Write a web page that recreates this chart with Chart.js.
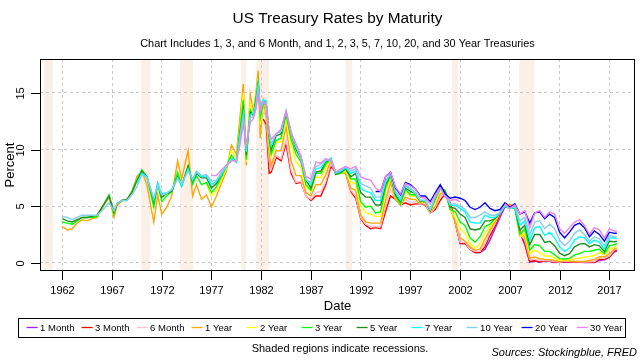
<!DOCTYPE html>
<html>
<head>
<meta charset="utf-8">
<script src="https://cdn.jsdelivr.net/npm/chart.js@4.4.1/dist/chart.umd.min.js"></script>
<style>
  body { margin: 0; background: #fff; }
  canvas { display: block; }
</style>
</head>
<body>
<canvas id="rates" width="640" height="360"></canvas>
<script>
// Dates (decimal years) shared by all series
const dates = [
    1962.0, 1962.5, 1963.0, 1963.5, 1964.0, 1964.5, 1965.0, 1965.5, 1966.0, 1966.7,
    1967.2, 1967.5, 1968.0, 1968.5, 1969.0, 1969.5, 1970.0, 1970.5, 1971.2, 1971.6,
    1972.0, 1972.5, 1973.0, 1973.6, 1974.0, 1974.65, 1975.1, 1975.5, 1976.0, 1976.5,
    1977.0, 1977.5, 1978.0, 1978.5, 1979.0, 1979.5, 1979.8, 1980.2, 1980.5, 1980.9,
    1981.2, 1981.45, 1981.7, 1981.9, 1982.2, 1982.5, 1982.8, 1983.0, 1983.5, 1984.0,
    1984.5, 1985.0, 1985.5, 1986.0, 1986.5, 1987.0, 1987.5, 1988.0, 1988.5, 1989.0,
    1989.5, 1990.0, 1990.5, 1991.0, 1991.5, 1992.0, 1992.5, 1993.0, 1993.5, 1994.0,
    1994.5, 1995.0, 1995.5, 1996.0, 1996.5, 1997.0, 1997.5, 1998.0, 1998.5, 1999.0,
    1999.5, 2000.0, 2000.5, 2001.0, 2001.5, 2002.0, 2002.5, 2003.0, 2003.5, 2004.0,
    2004.5, 2005.0, 2005.5, 2006.0, 2006.5, 2007.0, 2007.5, 2008.0, 2008.5, 2009.0,
    2009.5, 2010.0, 2010.5, 2011.0, 2011.5, 2012.0, 2012.5, 2013.0, 2013.5, 2014.0,
    2014.5, 2015.0, 2015.5, 2016.0, 2016.5, 2017.0, 2017.5, 2017.75
];

// Each series starts at the date given with it
const oneMonth = [
    3.6, 1.7, 1.7, 1.2, 0.9, 0.9,
    1.2, 2.0, 3.0, 4.0, 4.9, 4.9, 4.9, 2.7, 1.6, 0.05,
    0.15, 0.03, 0.15, 0.12, 0.02, 0.03, 0.08, 0.04, 0.03, 0.03,
    0.02, 0.02, 0.02, 0.2, 0.26, 0.5, 0.95, 1.0
];
const threeMonth = [
    12.7, 12.2, 7.9, 8.0, 9.3, 9.0,
    10.5, 7.9, 7.0, 7.1, 5.9, 5.5, 5.9, 5.9, 6.9, 8.5,
    8.0, 7.9, 7.9, 6.3, 5.7, 3.9, 3.3, 3.0, 3.1, 3.0,
    4.5, 5.9, 5.6, 5.1, 5.3, 5.1, 5.2, 5.2, 5.1, 4.4,
    4.7, 5.5, 6.1, 5.3, 3.6, 1.7, 1.7, 1.2, 0.9, 0.9,
    1.4, 2.4, 3.2, 4.3, 5.1, 5.1, 5.0, 2.8, 1.7, 0.1,
    0.2, 0.06, 0.16, 0.15, 0.04, 0.05, 0.1, 0.07, 0.04, 0.05,
    0.03, 0.03, 0.03, 0.3, 0.3, 0.5, 1.05, 1.1
];
const sixMonth = [
    13.3, 13.0, 9.0, 8.3, 9.5, 9.2,
    10.9, 8.2, 7.1, 7.2, 5.9, 5.6, 6.2, 6.3, 7.2, 8.8,
    7.9, 7.9, 7.9, 6.4, 5.9, 4.0, 3.4, 3.2, 3.2, 3.2,
    5.0, 6.5, 5.6, 5.1, 5.6, 5.3, 5.4, 5.2, 5.2, 4.4,
    4.9, 5.8, 6.3, 5.0, 3.6, 1.8, 1.8, 1.2, 1.0, 1.0,
    1.7, 2.7, 3.4, 4.5, 5.2, 5.1, 5.0, 2.6, 2.0, 0.3,
    0.3, 0.2, 0.2, 0.18, 0.1, 0.07, 0.14, 0.11, 0.08, 0.08,
    0.06, 0.08, 0.1, 0.45, 0.4, 0.6, 1.13, 1.2
];
const oneYear = [
    3.2, 2.9, 3.0, 3.5, 3.8, 3.7, 3.9, 4.0, 4.8, 5.8,
    4.0, 5.0, 5.5, 5.6, 6.3, 7.6, 8.1, 6.9, 3.6, 6.0,
    4.3, 4.9, 5.9, 9.0, 7.4, 9.9, 5.9, 6.9, 5.6, 6.0,
    4.9, 5.9, 7.0, 8.1, 10.4, 9.6, 12.3, 15.8, 8.6, 14.9,
    13.4, 14.9, 17.0, 11.0, 14.3, 13.0, 9.7, 8.6, 9.9, 9.9,
    12.0, 9.0, 7.7, 7.7, 6.2, 5.9, 6.9, 6.9, 7.8, 9.1,
    8.0, 7.9, 7.9, 6.6, 6.4, 4.2, 3.6, 3.5, 3.5, 3.5,
    5.5, 7.1, 5.6, 5.1, 5.8, 5.6, 5.6, 5.2, 5.4, 4.5,
    5.0, 6.1, 6.2, 4.8, 3.6, 2.2, 1.9, 1.4, 1.1, 1.2,
    2.1, 2.9, 3.6, 4.4, 5.2, 5.1, 5.0, 2.7, 2.3, 0.4,
    0.5, 0.35, 0.3, 0.27, 0.2, 0.12, 0.19, 0.15, 0.12, 0.12,
    0.11, 0.2, 0.3, 0.54, 0.51, 0.8, 1.22, 1.3
];
const twoYear = [
    6.9,
    5.9, 6.4, 7.4, 8.3, 9.9, 9.3, 11.5, 15.0, 8.9, 14.2,
    13.2, 14.5, 16.3, 12.2, 14.3, 13.7, 10.3, 9.4, 10.6, 10.7,
    12.8, 10.4, 8.9, 8.4, 6.7, 6.3, 7.6, 7.5, 8.4, 9.2,
    7.9, 7.9, 8.1, 7.1, 7.0, 5.0, 4.4, 4.3, 4.1, 4.1,
    6.3, 7.5, 5.8, 5.2, 6.3, 5.9, 5.9, 5.3, 5.5, 4.6,
    5.4, 6.4, 6.4, 4.7, 4.0, 3.0, 2.6, 1.7, 1.3, 1.7,
    2.6, 3.2, 3.8, 4.4, 5.1, 4.9, 4.8, 2.3, 2.6, 0.8,
    1.1, 0.9, 0.6, 0.6, 0.4, 0.24, 0.23, 0.27, 0.34, 0.4,
    0.5, 0.55, 0.66, 0.9, 0.7, 1.2, 1.35, 1.5
];
const threeYear = [
    3.6, 3.5, 3.4, 3.7, 4.0, 4.0, 4.0, 4.1, 4.9, 6.0,
    4.3, 5.2, 5.5, 5.5, 6.3, 7.3, 8.2, 7.6, 4.9, 6.9,
    5.4, 5.9, 6.3, 8.0, 6.8, 8.6, 6.9, 7.7, 6.9, 7.1,
    6.2, 6.7, 7.6, 8.5, 9.5, 8.9, 11.3, 14.4, 9.1, 13.5,
    13.0, 14.4, 16.0, 12.8, 14.0, 14.0, 10.8, 9.6, 10.8, 11.0,
    13.1, 10.9, 9.6, 8.9, 6.9, 6.4, 7.9, 7.9, 8.7, 9.2,
    7.8, 7.9, 8.3, 7.4, 7.4, 5.4, 4.9, 5.0, 4.4, 4.5,
    6.6, 7.7, 5.9, 5.2, 6.5, 6.0, 6.0, 5.4, 5.5, 4.6,
    5.6, 6.6, 6.4, 4.7, 4.5, 3.6, 3.3, 2.2, 1.8, 2.3,
    3.2, 3.4, 3.9, 4.4, 5.0, 4.8, 4.8, 2.5, 3.0, 1.1,
    1.6, 1.5, 1.0, 1.0, 0.7, 0.36, 0.33, 0.39, 0.7, 0.8,
    1.0, 1.0, 1.1, 1.2, 0.8, 1.5, 1.6, 1.7
];
const fiveYear = [
    3.9, 3.7, 3.6, 3.8, 4.0, 4.0, 4.1, 4.2, 4.9, 5.9,
    4.5, 5.2, 5.5, 5.6, 6.2, 7.2, 8.1, 7.6, 5.4, 7.0,
    5.8, 6.1, 6.3, 7.6, 6.8, 8.5, 7.2, 7.9, 7.5, 7.5,
    6.6, 7.0, 7.8, 8.5, 9.2, 8.9, 11.0, 13.5, 9.5, 13.3,
    13.1, 14.2, 15.9, 13.5, 14.3, 14.2, 11.2, 10.0, 11.2, 11.4,
    13.3, 11.4, 10.0, 9.2, 7.3, 6.6, 8.0, 8.1, 8.9, 9.2,
    7.8, 8.0, 8.3, 7.6, 7.9, 6.2, 5.8, 5.8, 5.1, 5.1,
    6.9, 7.8, 6.0, 5.4, 6.6, 6.3, 6.1, 5.4, 5.5, 4.6,
    5.7, 6.6, 6.2, 4.9, 4.8, 4.3, 4.0, 3.0, 2.9, 3.0,
    3.7, 3.7, 3.9, 4.4, 5.0, 4.8, 4.9, 2.9, 3.3, 1.6,
    2.5, 2.5, 1.8, 1.9, 1.5, 0.85, 0.62, 0.8, 1.4, 1.65,
    1.7, 1.4, 1.6, 1.5, 1.0, 1.9, 1.85, 1.9
];
const sevenYear = [
    7.0, 7.9, 7.6, 5.6, 7.0,
    6.1, 6.2, 6.4, 7.5, 6.8, 8.3, 7.3, 8.0, 7.6, 7.7,
    6.9, 7.2, 7.8, 8.5, 9.2, 8.9, 10.9, 13.2, 9.8, 13.1,
    13.2, 14.0, 15.8, 13.7, 14.4, 14.3, 11.4, 10.3, 11.4, 11.6,
    13.4, 11.6, 10.2, 9.4, 7.4, 6.9, 8.3, 8.4, 9.0, 9.2,
    7.9, 8.1, 8.4, 7.9, 8.1, 6.6, 6.3, 6.2, 5.5, 5.5,
    7.1, 7.9, 6.2, 5.5, 6.8, 6.5, 6.2, 5.5, 5.5, 4.7,
    5.8, 6.7, 6.1, 5.1, 5.1, 4.8, 4.5, 3.6, 3.5, 3.5,
    4.2, 4.0, 4.0, 4.4, 5.0, 4.8, 4.9, 3.3, 3.7, 2.0,
    3.1, 3.2, 2.4, 2.7, 2.2, 1.4, 1.0, 1.3, 2.0, 2.3,
    2.2, 1.7, 2.0, 1.8, 1.2, 2.2, 2.2, 2.1
];
const tenYear = [
    4.1, 4.0, 3.8, 4.0, 4.2, 4.2, 4.2, 4.2, 4.6, 5.3,
    4.6, 5.2, 5.5, 5.5, 6.0, 6.7, 7.8, 7.5, 5.7, 6.8,
    6.0, 6.1, 6.5, 7.4, 7.0, 8.1, 7.4, 8.1, 7.7, 7.8,
    7.2, 7.3, 8.0, 8.6, 9.1, 9.0, 10.3, 12.8, 10.3, 12.8,
    12.9, 13.6, 15.3, 13.4, 14.3, 14.0, 11.5, 10.5, 11.4, 11.7,
    13.4, 11.4, 10.3, 9.2, 7.3, 7.1, 8.5, 8.7, 9.1, 9.1,
    8.0, 8.2, 8.5, 8.1, 8.3, 7.0, 6.8, 6.6, 5.8, 5.8,
    7.3, 7.8, 6.3, 5.7, 6.9, 6.6, 6.1, 5.5, 5.5, 4.7,
    5.8, 6.7, 6.0, 5.2, 5.2, 5.0, 4.7, 4.0, 4.0, 4.2,
    4.5, 4.2, 4.2, 4.4, 5.1, 4.8, 5.0, 3.7, 4.0, 2.5,
    3.6, 3.7, 3.0, 3.4, 3.0, 2.0, 1.5, 1.9, 2.6, 2.9,
    2.5, 1.9, 2.3, 2.1, 1.5, 2.4, 2.3, 2.3
];
const twentyYear = [
    6.3, 6.3,
    7.6, 8.0, 6.6, 6.0, 7.1, 6.9, 6.5, 5.9, 5.9, 5.4,
    6.2, 6.9, 6.1, 5.7, 5.8, 5.7, 5.5, 4.9, 4.7, 4.9,
    5.3, 4.8, 4.6, 4.7, 5.3, 4.9, 5.2, 4.3, 4.5, 3.5,
    4.4, 4.5, 3.9, 4.3, 4.0, 2.7, 2.2, 2.7, 3.3, 3.5,
    3.1, 2.3, 2.8, 2.5, 1.9, 2.7, 2.6, 2.6
];
const thirtyYear = [
    7.7, 7.7, 8.2, 8.6, 9.0, 9.0, 10.1, 12.3, 10.4, 12.4,
    12.7, 13.5, 15.0, 13.4, 14.2, 13.9, 11.6, 10.9, 11.4, 11.8,
    13.4, 11.5, 10.5, 9.4, 7.6, 7.4, 8.9, 8.8, 9.2, 9.0,
    8.0, 8.3, 8.5, 8.3, 8.5, 7.6, 7.4, 7.3, 6.6, 6.3,
    7.6, 8.0, 6.7, 6.1, 7.0, 6.8, 6.5, 5.8, 5.7, 5.2,
    6.0, 6.6, 5.8, 5.5, 5.6, 5.4, null, null, null, null,
    null, null, null, null, 5.2, 4.8, 5.1, 4.3, 4.6, 3.1,
    4.4, 4.6, 4.0, 4.5, 4.3, 3.0, 2.6, 3.1, 3.6, 3.8,
    3.3, 2.5, 3.1, 2.9, 2.2, 3.0, 2.8, 2.8
];

const seriesNames = ['1 Month', '3 Month', '6 Month', '1 Year', '2 Year', '3 Year',
    '5 Year', '7 Year', '10 Year', '20 Year', '30 Year'];
const seriesValues = [oneMonth, threeMonth, sixMonth, oneYear, twoYear, threeYear,
    fiveYear, sevenYear, tenYear, twentyYear, thirtyYear];
const seriesStart = [2001.5, 1982.2, 1982.2, 1962.0, 1976.5, 1962.0,
    1962.0, 1969.5, 1962.0, 1993.5, 1977.0];
const seriesColors = ['#A020F0', '#FF0000', '#FFC0CB', '#FFA500', '#FFFF00', '#00FF00',
    '#228B22', '#00FFFF', '#87CEEB', '#0000FF', '#EE82EE'];

// Recessions, start and end as decimal years
const recessions = [
    [1960.2, 1961.05], [1969.92, 1970.85], [1973.84, 1975.15], [1980.0, 1980.48],
    [1981.5, 1982.8], [1990.5, 1991.15], [2001.2, 2001.8], [2007.95, 2009.45]
];

const yearTicks = [1962, 1967, 1972, 1977, 1982, 1987, 1992, 1997, 2002, 2007, 2012, 2017];
const percentTicks = [0, 5, 10, 15];

const FONT = '"Liberation Sans", Arial, sans-serif';
Chart.defaults.font.family = FONT;

const datasets = seriesNames.map((name, i) => {
    const offset = dates.indexOf(seriesStart[i]);
    return {
        label: name,
        data: seriesValues[i].map((v, k) => ({ x: dates[offset + k], y: v })),
        borderColor: seriesColors[i],
        backgroundColor: seriesColors[i],
        borderWidth: 1.4,
        pointRadius: 0,
        tension: 0,
        spanGaps: false,
        order: seriesNames.length - i
    };
});

// shading, frame, ticks, titles, legend and notes
const frame = {
    id: 'frame',
    beforeDraw(chart) {
        const { ctx, chartArea: a, scales: { x } } = chart;
        ctx.save();
        ctx.fillStyle = '#FBF0E7';
        recessions.forEach(([s, e]) => {
            const x0 = x.getPixelForValue(s);
            const x1 = x.getPixelForValue(e);
            ctx.fillRect(x0, a.top, x1 - x0, a.bottom - a.top);
        });
        ctx.restore();
    },
    afterDraw(chart) {
        const { ctx, chartArea: a, scales: { x, y } } = chart;
        ctx.save();
        ctx.strokeStyle = '#000';
        ctx.fillStyle = '#000';
        ctx.lineWidth = 1;
        ctx.strokeRect(a.left + 0.5, a.top + 0.5, a.right - a.left - 1, a.bottom - a.top - 1);

        ctx.font = '11px ' + FONT;
        ctx.textAlign = 'center';
        ctx.textBaseline = 'middle';
        yearTicks.forEach(t => {
            const px = Math.round(x.getPixelForValue(t)) + 0.5;
            ctx.beginPath();
            ctx.moveTo(px, a.bottom);
            ctx.lineTo(px, a.bottom + 9);
            ctx.stroke();
            ctx.fillText(String(t), px, 291);
        });
        percentTicks.forEach(t => {
            const py = Math.round(y.getPixelForValue(t)) + 0.5;
            ctx.beginPath();
            ctx.moveTo(a.left - 9, py);
            ctx.lineTo(a.left, py);
            ctx.stroke();
            ctx.save();
            ctx.translate(21, py);
            ctx.rotate(-Math.PI / 2);
            ctx.fillText(String(t), 0, 0);
            ctx.restore();
        });

        const cx = (a.left + a.right) / 2;
        ctx.font = '15.4px ' + FONT;
        ctx.fillText('US Treasury Rates by Maturity', cx, 19);
        ctx.font = '10.9px ' + FONT;
        ctx.fillText('Chart Includes 1, 3, and 6 Month, and 1, 2, 3, 5, 7, 10, 20, and 30 Year Treasuries', cx, 44);
        ctx.font = '13px ' + FONT;
        ctx.fillText('Date', cx, 306);
        ctx.save();
        ctx.translate(10, (a.top + a.bottom) / 2);
        ctx.rotate(-Math.PI / 2);
        ctx.fillText('Percent', 0, 0);
        ctx.restore();

        // legend
        ctx.strokeRect(18.5, 318.5, 607, 19);
        ctx.font = '9.5px ' + FONT;
        ctx.textAlign = 'left';
        chart.data.datasets.forEach((ds, i) => {
            const lx = 26.6 + i * 55;
            ctx.strokeStyle = ds.borderColor;
            ctx.lineWidth = 1.3;
            ctx.beginPath();
            ctx.moveTo(lx, 327.5);
            ctx.lineTo(lx + 11, 327.5);
            ctx.stroke();
            ctx.fillText(ds.label, lx + 13.5, 328);
        });

        ctx.font = '11px ' + FONT;
        ctx.textAlign = 'center';
        ctx.fillText('Shaded regions indicate recessions.', 340, 349);
        ctx.font = 'italic 11px ' + FONT;
        ctx.textAlign = 'right';
        ctx.fillText('Sources: Stockingblue, FRED', 637, 353);
        ctx.restore();
    }
};

new Chart(document.getElementById('rates'), {
    type: 'line',
    data: { datasets: datasets },
    options: {
        responsive: false,
        animation: false,
        events: [],
        layout: { padding: { left: 40, right: 5, top: 59, bottom: 89 } },
        plugins: { legend: { display: false }, tooltip: { enabled: false } },
        scales: {
            x: {
                type: 'linear',
                min: 1959.76,
                max: 2019.58,
                afterBuildTicks: s => { s.ticks = yearTicks.map(v => ({ value: v })); },
                afterFit: s => { s.height = 0; },
                ticks: { display: false },
                grid: { color: '#C8C8C8', drawTicks: false, tickLength: 0 },
                border: { display: false, dash: [3, 3] }
            },
            y: {
                type: 'linear',
                min: -0.73,
                max: 18.0,
                afterBuildTicks: s => { s.ticks = percentTicks.map(v => ({ value: v })); },
                afterFit: s => { s.width = 0; },
                ticks: { display: false },
                grid: { color: '#C8C8C8', drawTicks: false, tickLength: 0 },
                border: { display: false, dash: [3, 3] }
            }
        }
    },
    plugins: [frame]
});
</script>
</body>
</html>
